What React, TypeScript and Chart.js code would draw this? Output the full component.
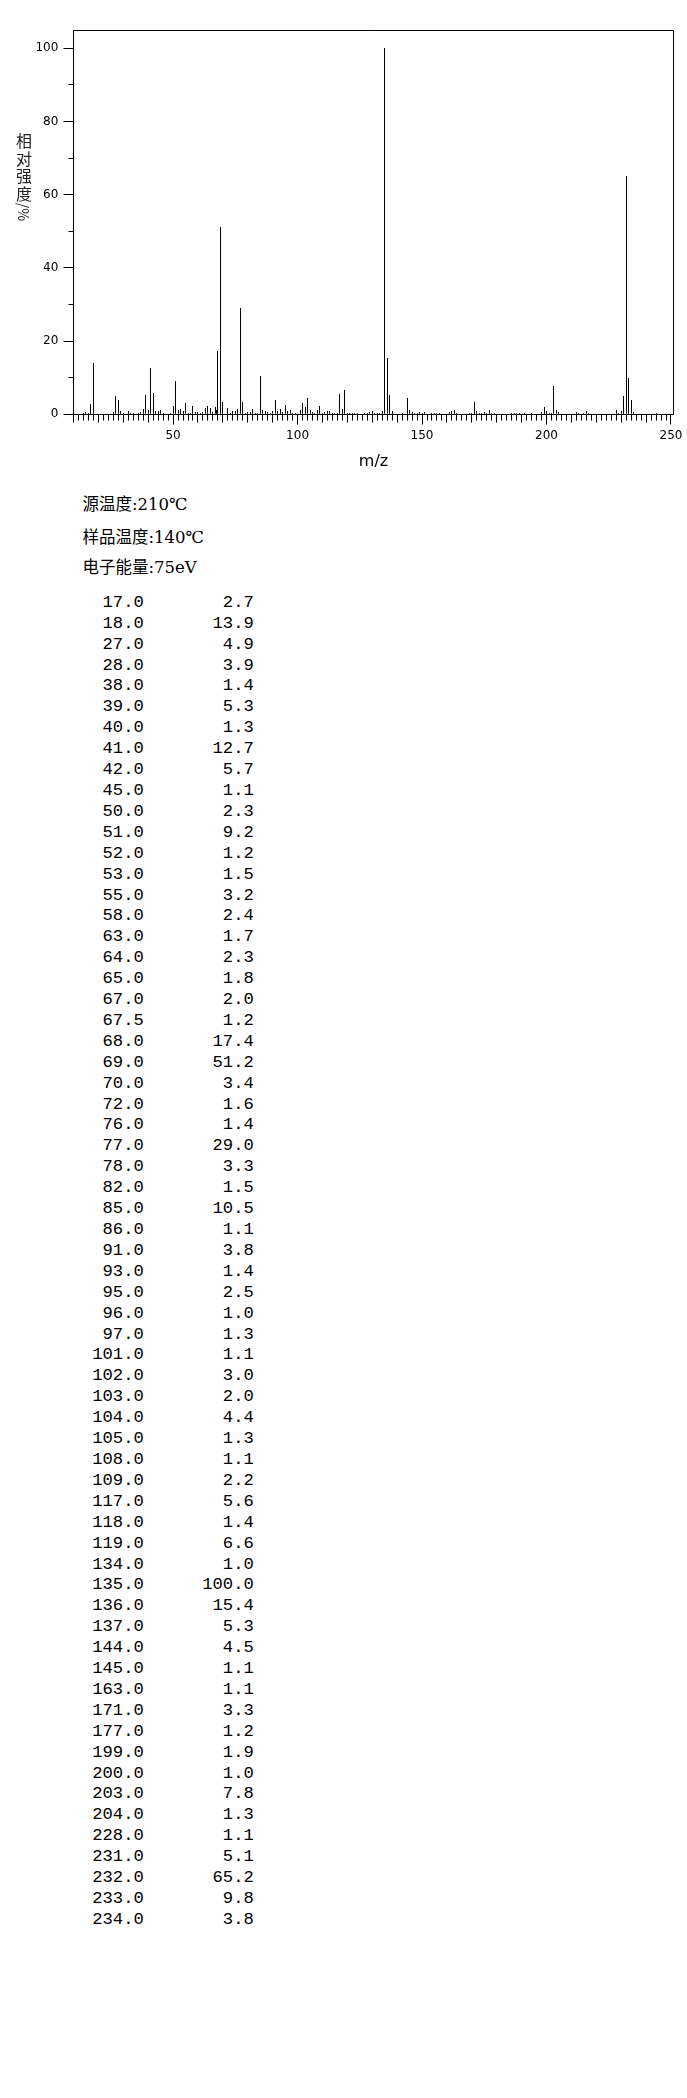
import React, { useEffect, useRef } from 'react';
import { Chart, registerables } from 'chart.js';

Chart.register(...registerables);

// peaks listed in the table (m/z, relative intensity %)
const tableMz = [
  17, 18, 27, 28, 38, 39, 40, 41, 42, 45, 50, 51, 52, 53, 55, 58, 63, 64, 65, 67, 67.5, 68, 69, 70, 72, 76,
  77, 78, 82, 85, 86, 91, 93, 95, 96, 97, 101, 102, 103, 104, 105, 108, 109, 117, 118, 119, 134, 135, 136,
  137, 144, 145, 163, 171, 177, 199, 200, 203, 204, 228, 231, 232, 233, 234,
];
const tableIntensity = [
  2.7, 13.9, 4.9, 3.9, 1.4, 5.3, 1.3, 12.7, 5.7, 1.1, 2.3, 9.2, 1.2, 1.5, 3.2, 2.4, 1.7, 2.3, 1.8, 2.0, 1.2,
  17.4, 51.2, 3.4, 1.6, 1.4, 29.0, 3.3, 1.5, 10.5, 1.1, 3.8, 1.4, 2.5, 1.0, 1.3, 1.1, 3.0, 2.0, 4.4, 1.3,
  1.1, 2.2, 5.6, 1.4, 6.6, 1.0, 100.0, 15.4, 5.3, 4.5, 1.1, 1.1, 3.3, 1.2, 1.9, 1.0, 7.8, 1.3, 1.1, 5.1,
  65.2, 9.8, 3.8,
];

// small peaks (< 1 %) only visible in the spectrum
const minorMz = [
  14, 15, 16, 26, 29, 30, 32, 33, 34, 36, 37, 43, 44, 46, 49, 54, 56, 57, 59, 60, 61, 62, 66, 73, 74, 75,
  79, 80, 81, 83, 84, 87, 88, 89, 90, 92, 94, 98, 99, 100, 106, 107, 110, 111, 112, 113, 114, 115, 116,
  120, 121, 122, 123, 124, 127, 128, 129, 130, 131, 132, 133, 138, 142, 146, 147, 148, 149, 150, 151, 154,
  155, 156, 157, 161, 162, 164, 169, 170, 172, 173, 174, 175, 176, 178, 179, 186, 187, 188, 189, 191, 194,
  198, 201, 202, 205, 212, 213, 215, 216, 217, 229, 230, 235, 244,
];
const minorIntensity = [
  0.4, 0.5, 0.3, 0.5, 0.8, 0.4, 0.8, 0.4, 0.3, 0.4, 0.5, 0.8, 0.8, 0.4, 0.4, 0.9, 0.4, 0.4, 0.7, 0.5, 0.4,
  0.6, 0.5, 0.4, 0.8, 0.8, 0.4, 0.5, 0.5, 0.4, 0.4, 0.8, 0.5, 0.4, 0.8, 0.8, 0.5, 0.4, 0.4, 0.2, 0.5, 0.4,
  0.4, 0.5, 0.8, 0.8, 0.4, 0.4, 0.4, 0.4, 0.4, 0.4, 0.4, 0.4, 0.4, 0.4, 0.6, 0.8, 0.4, 0.4, 0.4, 0.8, 0.4,
  0.5, 0.4, 0.4, 0.5, 0.4, 0.5, 0.4, 0.4, 0.4, 0.4, 0.5, 0.8, 0.4, 0.4, 0.4, 0.8, 0.4, 0.4, 0.5, 0.4, 0.4,
  0.4, 0.4, 0.4, 0.4, 0.4, 0.4, 0.4, 0.5, 0.4, 0.4, 0.5, 0.5, 0.4, 0.4, 0.8, 0.4, 0.4, 0.8, 0.5, 0.4,
];

const xTickLabels = [50, 100, 150, 200, 250];
const yTickLabels = [0, 20, 40, 60, 80, 100];

const yTitleChars = ['相', '对', '强', '度'];
const yTitleUnit = '/%';

const infoLines = ['源温度:210℃', '样品温度:140℃', '电子能量:75eV'];

const CANVAS_W = 687;
const CANVAS_H = 480;

// frame, baseline and the tick marks of different lengths
const frameTicks = {
  id: 'frameTicks',
  beforeDatasetsDraw(chart: any) {
    // snap the 1px sticks onto whole pixels
    chart.getDatasetMeta(0).data.forEach((el: any) => {
      el.x = Math.floor(el.x) + 0.5;
      el.y = Math.round(el.y);
    });
  },
  afterDraw(chart: any) {
    const { ctx, chartArea: a, scales } = chart;
    const x = scales.x;
    const y = scales.y;
    const px = (v: number) => Math.floor(v) + 0.5;
    const y0 = px(y.getPixelForValue(0));
    const left = px(a.left);
    const right = px(a.right);
    const top = px(a.top);
    ctx.save();
    ctx.strokeStyle = '#000';
    ctx.lineWidth = 1;
    ctx.beginPath();
    ctx.moveTo(left, y0);
    ctx.lineTo(left, top);
    ctx.lineTo(right, top);
    ctx.lineTo(right, y0);
    ctx.moveTo(left, y0);
    ctx.lineTo(right, y0);
    for (let v = 0; v <= 100; v += 10) {
      const yy = px(y.getPixelForValue(v));
      const len = v % 20 === 0 ? 10 : 5;
      ctx.moveTo(left - len, yy);
      ctx.lineTo(left, yy);
    }
    for (let v = 10; v <= 250; v += 2) {
      const xx = px(x.getPixelForValue(v));
      const len = v % 50 === 0 ? 10 : v % 10 === 0 ? 8 : 6;
      ctx.moveTo(xx, y0);
      ctx.lineTo(xx, y0 + len);
    }
    ctx.stroke();
    ctx.restore();
  },
};

function Spectrum() {
  const chartRef = useRef<HTMLCanvasElement | null>(null);
  const chartInstanceRef = useRef<Chart | null>(null);

  useEffect(() => {
    if (!chartRef.current) return;
    if (chartInstanceRef.current) chartInstanceRef.current.destroy();
    const ctx = chartRef.current.getContext('2d');
    if (!ctx) return;

    const peaks = tableMz
      .map((m, i) => ({ x: m, y: tableIntensity[i] }))
      .concat(minorMz.map((m, i) => ({ x: m, y: minorIntensity[i] })))
      .sort((p, q) => p.x - q.x);

    const tickFont = { family: "'DejaVu Sans'", size: 12 };

    chartInstanceRef.current = new Chart(ctx, {
      type: 'bar',
      data: {
        datasets: [
          {
            data: peaks as any,
            backgroundColor: '#000',
            borderWidth: 0,
            barThickness: 1,
            inflateAmount: 0,
          } as any,
        ],
      },
      options: {
        animation: false,
        responsive: false,
        devicePixelRatio: 1,
        layout: { padding: { left: 0, right: 13, top: 30, bottom: 0 } },
        plugins: { legend: { display: false }, tooltip: { enabled: false } },
        scales: {
          x: {
            type: 'linear',
            min: 10,
            max: 251,
            offset: false,
            afterFit: (s: any) => {
              s.height = CANVAS_H - 414.3;
            },
            border: { display: false },
            grid: { display: true, drawOnChartArea: false, drawTicks: true, tickLength: 10, tickColor: 'rgba(0,0,0,0)' },
            ticks: {
              stepSize: 50,
              includeBounds: false,
              autoSkip: false,
              maxRotation: 0,
              padding: 4.5,
              color: '#000',
              font: tickFont,
              callback: (v: any) => (xTickLabels.includes(v) ? String(v) : ''),
            },
            title: {
              display: true,
              text: 'm/z',
              color: '#000',
              font: { family: "'DejaVu Sans'", size: 16 },
              padding: { top: 0, bottom: 9 },
            },
          },
          y: {
            min: 0,
            max: 105,
            afterFit: (s: any) => {
              s.width = 73.5;
            },
            border: { display: false },
            grid: { display: true, drawOnChartArea: false, drawTicks: true, tickLength: 10, tickColor: 'rgba(0,0,0,0)' },
            ticks: {
              stepSize: 20,
              includeBounds: false,
              autoSkip: false,
              padding: 5.2,
              color: '#000',
              font: tickFont,
              callback: (v: any) => (yTickLabels.includes(v) ? String(v) : ''),
            },
          },
        },
      } as any,
      plugins: [frameTicks],
    });

    return () => {
      if (chartInstanceRef.current) {
        chartInstanceRef.current.destroy();
        chartInstanceRef.current = null;
      }
    };
  }, []);

  return (
    <canvas
      ref={chartRef}
      width={CANVAS_W}
      height={CANVAS_H}
      style={{ position: 'absolute', left: 0, top: 0, width: CANVAS_W, height: CANVAS_H }}
    />
  );
}

function YTitle() {
  const pitch = 17.8;
  return (
    <div
      style={{
        position: 'absolute',
        left: 15.5,
        top: 131.9,
        width: 17,
        fontFamily: "'Noto Sans CJK SC'",
        fontSize: 16,
        color: '#222',
        textAlign: 'center',
      }}
    >
      {yTitleChars.map((c) => (
        <div key={c} style={{ height: pitch, lineHeight: `${pitch}px` }}>
          {c}
        </div>
      ))}
      <div style={{ position: 'relative', height: 18 }}>
        <span
          style={{
            position: 'absolute',
            left: '50%',
            top: '50%',
            transform: 'translate(-50%, -50%) rotate(90deg)',
            fontSize: 14,
            lineHeight: '14px',
            whiteSpace: 'pre',
          }}
        >
          {yTitleUnit}
        </span>
      </div>
    </div>
  );
}

export default function App() {
  const rowH = 20.92;
  return (
    <div style={{ position: 'absolute', left: 0, top: 0, width: 687, height: 2098, background: '#fff' }}>
      <Spectrum />
      <YTitle />
      {infoLines.map((t, i) => (
        <div
          key={t}
          style={{
            position: 'absolute',
            left: 82.5,
            top: [495, 527.5, 558.3][i],
            fontFamily: "'DejaVu Serif', 'Noto Sans CJK SC'",
            fontSize: 16.5,
            lineHeight: '20px',
            color: '#000',
            whiteSpace: 'pre',
          }}
        >
          {t}
        </div>
      ))}
      <div
        style={{
          position: 'absolute',
          left: 0,
          top: 603.3 - rowH / 2,
          fontFamily: "'Liberation Mono'",
          fontSize: 17.2,
          lineHeight: `${rowH}px`,
          color: '#000',
          whiteSpace: 'pre',
        }}
      >
        {tableMz.map((m, i) => (
          <div key={m} style={{ height: rowH }}>
            <span style={{ display: 'inline-block', width: 143.8, textAlign: 'right' }}>{m.toFixed(1)}</span>
            <span style={{ display: 'inline-block', width: 110, textAlign: 'right' }}>
              {tableIntensity[i].toFixed(1)}
            </span>
          </div>
        ))}
      </div>
    </div>
  );
}
